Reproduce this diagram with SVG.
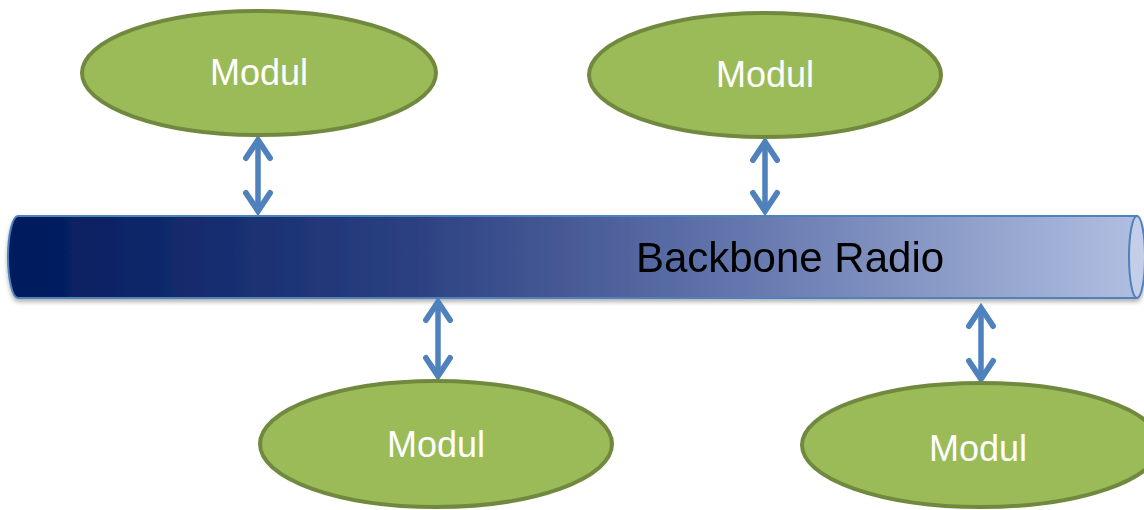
<svg xmlns="http://www.w3.org/2000/svg" width="1144" height="510" viewBox="0 0 1144 510">
<defs>
<linearGradient id="bb" x1="0" y1="0" x2="1" y2="0">
<stop offset="0" stop-color="#001A5C"/>
<stop offset="0.35" stop-color="#2A3F80"/>
<stop offset="0.65" stop-color="#6477AE"/>
<stop offset="1" stop-color="#B0BEE0"/>
</linearGradient>
<filter id="sh" x="-5%" y="-20%" width="110%" height="150%">
<feDropShadow dx="0" dy="3" stdDeviation="2" flood-color="#000" flood-opacity="0.3"/>
</filter>
<marker id="ah" viewBox="0 0 20 20" refX="15" refY="10" markerWidth="5.5" markerHeight="5.5" markerUnits="strokeWidth" orient="auto-start-reverse">
<polyline points="3,2 15,10 3,18" fill="none" stroke="#4F81BD" stroke-width="3.8" stroke-linecap="round" stroke-linejoin="miter"/>
</marker>
</defs>
<style>
.mod ellipse{fill:#9BBB59;stroke:#71893F;stroke-width:4}
.mod text{font-family:"Liberation Sans",Arial,sans-serif;font-size:36px;fill:#fff;text-anchor:middle}
.conn line{stroke:#4F81BD;stroke-width:5.5;marker-start:url(#ah);marker-end:url(#ah)}
</style>
<g id="backbone" filter="url(#sh)">
<path d="M1137 216 L18 216 A10 41 0 0 0 18 298 L1137 298 Z" fill="url(#bb)" stroke="#4F81BD" stroke-width="2"/>
<ellipse cx="1137" cy="257" rx="8" ry="41" fill="#C5CEE8" stroke="#4F81BD" stroke-width="2"/>
<text x="790" y="272" font-family="'Liberation Sans',Arial,sans-serif" font-size="42" fill="#000" text-anchor="middle">Backbone Radio</text>
</g>
<g class="conn" id="connectors">
<line x1="258" y1="140" x2="258" y2="211"/>
<line x1="765" y1="142" x2="765" y2="211"/>
<line x1="438" y1="302" x2="438" y2="376"/>
<line x1="981" y1="308" x2="981" y2="379"/>
</g>
<g class="mod" id="modul1"><ellipse cx="259" cy="73" rx="177" ry="62"/><text x="259" y="85">Modul</text></g>
<g class="mod" id="modul2"><ellipse cx="765" cy="75" rx="176" ry="62"/><text x="765" y="87">Modul</text></g>
<g class="mod" id="modul3"><ellipse cx="436" cy="444" rx="176" ry="63"/><text x="436" y="457">Modul</text></g>
<g class="mod" id="modul4"><ellipse cx="981" cy="445" rx="179" ry="62"/><text x="978" y="461">Modul</text></g>
</svg>
